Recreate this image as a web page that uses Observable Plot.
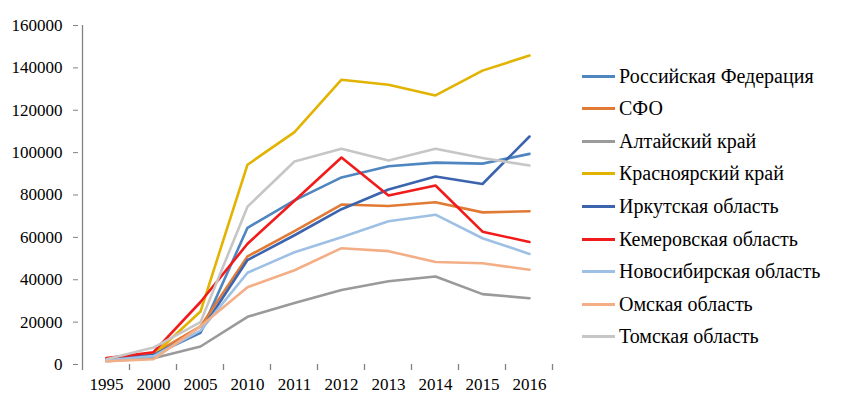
<!DOCTYPE html>
<html>
<head>
<meta charset="utf-8">
<script src="https://cdn.jsdelivr.net/npm/d3@7"></script>
<script src="https://cdn.jsdelivr.net/npm/@observablehq/plot@0.6"></script>
<style>
  body { margin: 0; background: #fff; }
  #wrap { position: relative; width: 851px; height: 410px; }
  #wrap svg text { font-family: "Liberation Serif", "Times New Roman", serif !important; font-size: 17px !important; }
  #legend { position: absolute; left: 582px; top: 0; font-family: "Liberation Serif", "Times New Roman", serif; font-size: 20px; color: #000; }
  .row { position: absolute; left: 0; display: flex; align-items: center; white-space: nowrap; height: 20px; }
  .sw { width: 33px; height: 3px; margin-right: 4px; }
</style>
</head>
<body>
<div id="wrap"><div id="legend"></div></div>
<script>
const years = ["1995","2000","2005","2010","2011","2012","2013","2014","2015","2016"];
const seriesNames = ["Российская Федерация","СФО","Алтайский край","Красноярский край","Иркутская область","Кемеровская область","Новосибирская область","Омская область","Томская область"];
const seriesColors = ["#4F86C0","#E07A35","#9A9A9A","#E2B300","#3C64AE","#F21B1B","#9DC0E4","#F3AE86","#C6C6C6"];
const rf        = [2500, 4500, 15000, 64500, 77500, 88300, 93600, 95300, 94800, 99400];
const sfo       = [2500, 5000, 18000, 51000, 63000, 75500, 74800, 76600, 71800, 72300];
const altai     = [1500, 3000, 8500, 22500, 29000, 35200, 39300, 41500, 33200, 31300];
const krasn     = [2500, 4500, 25000, 94300, 109700, 134400, 132000, 127000, 138700, 145800];
const irkutsk   = [2800, 4500, 15500, 49300, 61000, 73300, 82600, 88700, 85200, 107600];
const kemerovo  = [3000, 5800, 29500, 57000, 77300, 97700, 79800, 84500, 62700, 57800];
const novosib   = [2000, 4000, 16000, 43300, 53000, 60100, 67600, 70700, 59600, 52200];
const omsk      = [1500, 2500, 18000, 36500, 44500, 54900, 53500, 48400, 47800, 44700];
const tomsk     = [2500, 8000, 20000, 74500, 95800, 101800, 96300, 101800, 97500, 93900];
const seriesValues = [rf, sfo, altai, krasn, irkutsk, kemerovo, novosib, omsk, tomsk];
const yTicks = [0, 20000, 40000, 60000, 80000, 100000, 120000, 140000, 160000];

const data = [];
seriesNames.forEach((name, i) => years.forEach((yr, j) => data.push({series: name, year: yr, value: seriesValues[i][j]})));

const grid = "#828282";
const font = "'Liberation Serif', 'Times New Roman', serif";
const plot = Plot.plot({
  width: 851,
  height: 410,
  marginLeft: 78,
  marginRight: 294,
  marginTop: 25,
  marginBottom: 46,
  style: {fontFamily: font, fontSize: "17px", color: "#000", background: "#fff"},
  x: {type: "point", domain: years, padding: 0.5, label: null},
  y: {domain: [0, 160000], label: null},
  color: {domain: seriesNames, range: seriesColors},
  marks: [
    Plot.ruleY(yTicks, {stroke: grid, strokeWidth: 1.3, x1: null}),
    Plot.axisY({ticks: yTicks, tickSize: 5, tickPadding: 11, stroke: grid, label: null, tickFormat: d => String(d), fill: "#000"}),
    Plot.axisX({tickSize: 0, tickPadding: 13, label: null, fill: "#000"}),
    Plot.line(data, {x: "year", y: "value", z: "series", stroke: "series", strokeWidth: 2.6, strokeLinejoin: "round"})
  ]
});
document.getElementById("wrap").prepend(plot);

// axis lines and boundary ticks derived from the Plot scales
const xs = plot.scale("x"), ys = plot.scale("y");
const step = xs.apply(years[1]) - xs.apply(years[0]);
const x0 = xs.apply(years[0]) - step / 2;
const x1 = xs.apply(years[years.length - 1]) + step / 2;
const y0 = ys.apply(0), yTop = ys.apply(160000);
const svg = d3.select(plot);
svg.selectAll("[aria-label='rule'] line").attr("x1", x0 - 5).attr("x2", x1);
const g = svg.insert("g", "[aria-label='line']").attr("stroke", grid).attr("stroke-width", 1.3);
g.append("line").attr("x1", x0).attr("x2", x0).attr("y1", yTop).attr("y2", y0 + 6);
for (let k = 1; k <= years.length; k++) {
  const xx = x0 + k * step;
  g.append("line").attr("x1", xx).attr("x2", xx).attr("y1", y0).attr("y2", y0 + 6);
}

const legend = document.getElementById("legend");
seriesNames.forEach((name, i) => {
  const row = document.createElement("div");
  row.className = "row";
  row.style.top = (76 + i * 32.6 - 10) + "px";
  row.innerHTML = `<div class="sw" style="background:${seriesColors[i]}"></div><span>${name}</span>`;
  legend.appendChild(row);
});
</script>
</body>
</html>
